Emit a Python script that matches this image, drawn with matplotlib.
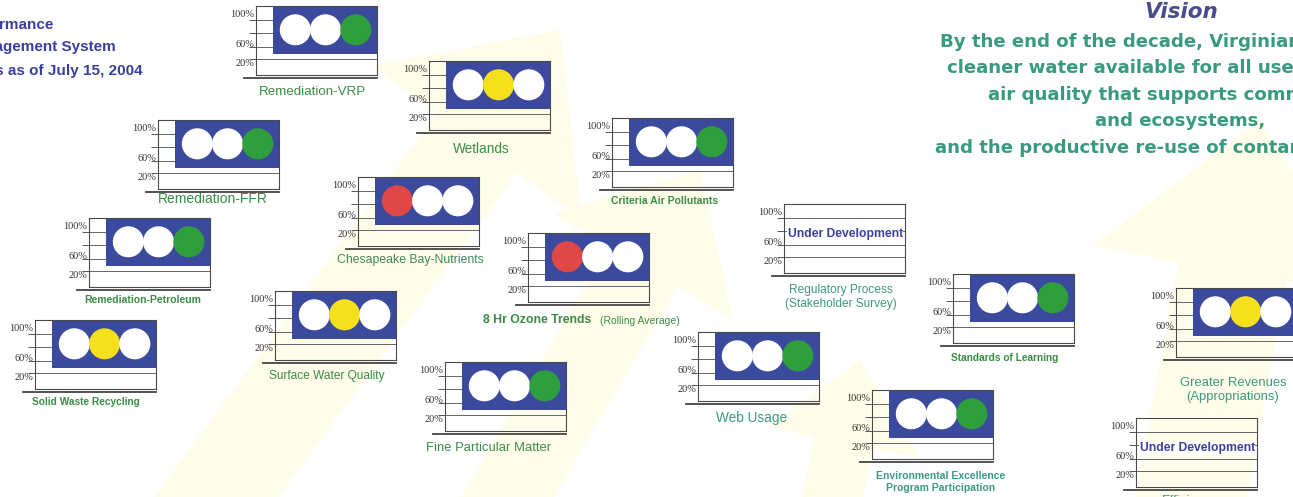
"""
Performance Management System - status board as of July 15, 2004
Traffic-light indicator widgets laid out on a poster
"""

import matplotlib
matplotlib.use('Agg')
import matplotlib.pyplot as plt
from matplotlib.patches import Rectangle, Polygon
import numpy as np

# ---- data -------------------------------------------------------------
indicators = [
    "Remediation-VRP", "Wetlands", "Remediation-FFR", "Criteria Air Pollutants",
    "Chesapeake Bay-Nutrients", "Remediation-Petroleum", "8 Hr Ozone Trends",
    "Regulatory Process\n(Stakeholder Survey)", "Surface Water Quality",
    "Solid Waste Recycling", "Standards of Learning", "Web Usage",
    "Fine Particular Matter", "Environmental Excellence\nProgram Participation",
    "Greater Revenues\n(Appropriations)", "Efficiency",
]
status = ["green", "yellow", "green", "green", "red", "green", "red", "dev",
          "yellow", "yellow", "green", "green", "green", "green", "yellow", "dev"]
light_order = ["red", "yellow", "green"]
tick_labels = ["100%", "60%", "20%"]

title_lines = ["Performance", "Management System", "Status as of July 15, 2004"]
vision_lines = [
    "By the end of the decade, Virginians will have",
    "cleaner water available for all uses,",
    "air quality that supports community health",
    "and ecosystems,",
    "and the productive re-use of contaminated land.",
]

# ---- layout / style ---------------------------------------------------
W, H = 1293, 497
BOX_W, BOX_H = 121, 69
BLUE = '#3b4a9c'
LIGHT = {'red': '#e04848', 'yellow': '#f4e01c', 'green': '#2f9e3c'}
GREEN = '#3a8c45'
TEAL = '#3a9a80'
NAVY = '#3b3f9c'
SANS = ['Liberation Sans', 'DejaVu Sans']

# frame (left, top) in pixels
frame_xy = [(256, 6), (429, 61), (158, 120), (612, 118), (358, 177), (89, 218),
            (528, 233), (784, 204), (275, 291), (35, 320), (953, 274), (698, 332),
            (445, 362), (872, 390), (1176, 288), (1136, 418)]
# label anchor, alignment, size, weight, colour
label_style = [
    ((313, 92), 'center', 9.6, 'normal', GREEN),
    ((481, 149), 'center', 9.8, 'normal', GREEN),
    ((213, 199), 'center', 10, 'normal', GREEN),
    ((665, 201), 'center', 7.5, 'bold', GREEN),
    ((410, 260), 'center', 8.8, 'normal', '#3a8a60'),
    ((143, 300), 'center', 7.5, 'bold', GREEN),
    ((483, 320), 'left', 8.8, 'bold', GREEN),
    ((841, 297), 'center', 8.6, 'normal', TEAL),
    ((327, 376), 'center', 8.6, 'normal', GREEN),
    ((86, 402), 'center', 7.3, 'bold', GREEN),
    ((1005, 358), 'center', 7.3, 'bold', GREEN),
    ((752, 418), 'center', 9.8, 'normal', TEAL),
    ((489, 448), 'center', 9.4, 'normal', GREEN),
    ((941, 482), 'center', 7.5, 'bold', TEAL),
    ((1233, 390), 'center', 9.4, 'normal', TEAL),
    ((1190, 501), 'center', 9.4, 'normal', TEAL),
]

plt.rcParams['font.family'] = SANS

fig = plt.figure(figsize=(W / 100, H / 100), dpi=100)
fig.patch.set_facecolor('white')

# background canvas in pixel coordinates
bg = fig.add_axes([0, 0, 1, 1], zorder=0)
bg.set_xlim(0, W)
bg.set_ylim(H, 0)
bg.axis('off')


def arrow(tail, head, width, color='#fffdea'):
    """faint yellow arrow drawn behind the board"""
    tail, head = np.array(tail, float), np.array(head, float)
    d = head - tail
    d /= np.hypot(*d)
    n = np.array([-d[1], d[0]])
    neck = head - d * width * 1.4
    pts = [tail + n * width / 2, neck + n * width / 2, neck + n * width * 1.3,
           head, neck - n * width * 1.3, neck - n * width / 2, tail - n * width / 2]
    bg.add_patch(Polygon(pts, closed=True, facecolor=color, edgecolor='none'))


arrow((170, 560), (560, 30), 100)
arrow((470, 560), (700, 170), 80)
arrow((820, 560), (860, 360), 60)
arrow((1180, 560), (1260, 120), 110)

# title (left part cut off by the page edge)
for line, y, xr in zip(title_lines, [25, 47, 71], [53, 116, 143]):
    bg.text(xr, y, line, ha='right', va='center', fontsize=11, fontweight='bold',
            color=NAVY)

# vision statement
bg.text(1181, 12, "Vision", ha='center', va='center', fontsize=15.5,
        fontweight='bold', fontstyle='italic', color='#484d8c', family='DejaVu Sans')
for line, y, xl in zip(vision_lines, [42, 68, 95, 121, 148], [940, 947, 988, 1095, 935]):
    bg.text(xl, y, line, ha='left', va='center', fontsize=13.1, fontweight='bold',
            color=TEAL, family='DejaVu Sans')


def px_rect(left, top, w, h):
    return [left / W, 1 - (top + h) / H, w / W, h / H]


for name, st, (fx, fy), ((lx, ly), ha, fs, fw, col) in zip(indicators, status,
                                                           frame_xy, label_style):
    ax = fig.add_axes(px_rect(fx, fy, BOX_W, BOX_H), zorder=2)
    ax.set_xlim(-0.3, 3.7)
    ax.set_ylim(0, 100)
    ax.set_facecolor('none')
    for sp in ax.spines.values():
        sp.set_color('#4a4a4a')
        sp.set_linewidth(0.8)
    ax.set_xticks([])
    ax.set_yticks([89, 46, 18], labels=tick_labels)
    ax.set_yticks([79, 61, 41, 23], minor=True)
    ax.tick_params(axis='y', which='major', length=0, pad=1, labelsize=7.4,
                   labelcolor='#333333')
    ax.tick_params(axis='y', which='minor', length=5, width=0.7, color='#555555')
    ax.grid(which='minor', axis='y', color='#666666', lw=0.7)
    for t in ax.get_yticklabels():
        t.set_family('Liberation Serif')
    # double rule under the frame
    ax.plot([-0.7, 3.7], [-4, -4], color='#444444', lw=1.3, clip_on=False)

    if st == 'dev':
        ax.text(1.72, 56, "Under Development", ha='center', va='center', fontsize=8.7,
                fontweight='bold', color=NAVY,
                bbox=dict(facecolor='white', edgecolor='none', pad=0.5))
    else:
        ax.add_patch(Rectangle((0.25, 31), 3.45, 69, facecolor=BLUE,
                               edgecolor='none', zorder=2))
        colors = [LIGHT[c] if c == st else 'white' for c in light_order]
        ax.scatter([1, 2, 3], [65.5] * 3, s=500, c=colors, linewidths=0, zorder=3)

    bg.text(lx, ly, name, ha=ha, va='center', fontsize=fs, fontweight=fw,
            color=col, linespacing=1.15)

# note next to the ozone label
bg.text(600, 321, "(Rolling Average)", ha='left', va='center', fontsize=7.5,
        color=GREEN)

fig.savefig('out.png', dpi=100, facecolor='white')
